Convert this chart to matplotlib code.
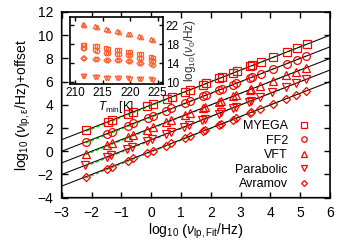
import numpy as np
import matplotlib
matplotlib.use("Agg")
import matplotlib.pyplot as plt

plt.rcParams['font.family'] = ['Liberation Sans', 'DejaVu Sans']
plt.rcParams['mathtext.fontset'] = 'custom'
plt.rcParams['mathtext.rm'] = 'Liberation Sans'
plt.rcParams['mathtext.it'] = 'Liberation Sans:italic'
plt.rcParams['mathtext.bf'] = 'Liberation Sans:bold'
plt.rcParams['path.snap'] = False

# ---------------- data ----------------
series_names = ["MYEGA", "FF2", "VFT", "Parabolic", "Avramov"]
series_markers = ["s", "o", "^", "v", "D"]
offsets = [4, 3, 2, 1, 0]

x_myega = [-2.18, -1.46, -1.30, -0.77, -0.60, -0.13, 0.07, 0.52, 0.69, 1.14, 1.31,
           1.75, 1.84, 2.29, 2.37, 2.76, 2.87, 3.32, 3.38, 3.68, 4.10, 4.55, 4.89, 5.22]
y_myega = [1.80, 2.52, 2.70, 3.22, 3.41, 3.86, 4.08, 4.52, 4.70, 5.13, 5.32,
           5.74, 5.85, 6.28, 6.38, 6.75, 6.88, 7.31, 7.39, 7.67, 8.10, 8.55, 8.88, 9.22]
x_ff2 = [-2.19, -1.47, -1.31, -0.78, -0.61, -0.12, 0.06, 0.51, 0.68, 1.13, 1.30,
         1.74, 1.83, 2.28, 2.36, 2.75, 2.86, 3.31, 3.37, 3.67, 4.09, 4.54, 4.88, 5.21]
y_ff2 = [0.80, 1.52, 1.70, 2.21, 2.40, 2.87, 3.07, 3.50, 3.69, 4.12, 4.31,
         4.73, 4.84, 5.27, 5.37, 5.74, 5.87, 6.30, 6.38, 6.66, 7.09, 7.54, 7.87, 8.21]
x_vft = [-2.20, -1.48, -1.32, -0.79, -0.62, -0.13, 0.05, 0.50, 0.67, 1.12, 1.29,
         1.73, 1.82, 2.27, 2.35, 2.74, 2.85, 3.30, 3.36, 3.66, 4.08, 4.53, 4.87, 5.20]
y_vft = [-0.21, 0.51, 0.69, 1.20, 1.39, 1.86, 2.06, 2.49, 2.68, 3.11, 3.30,
         3.72, 3.83, 4.26, 4.36, 4.73, 4.86, 5.29, 5.37, 5.65, 6.08, 6.53, 6.86, 7.20]
x_par = [-2.21, -1.49, -1.33, -0.80, -0.63, -0.14, 0.04, 0.49, 0.66, 1.11, 1.28,
         1.72, 1.81, 2.26, 2.34, 2.73, 2.84, 3.29, 3.35, 3.65, 4.07, 4.52, 4.86, 5.19]
y_par = [-1.22, -0.50, -0.32, 0.19, 0.38, 0.85, 1.05, 1.48, 1.67, 2.10, 2.29,
         2.71, 2.82, 3.25, 3.35, 3.72, 3.85, 4.28, 4.36, 4.64, 5.07, 5.52, 5.85, 6.19]
x_avr = [-2.20, -1.48, -1.32, -0.79, -0.62, -0.13, 0.05, 0.50, 0.67, 1.12, 1.29,
         1.73, 1.82, 2.27, 2.35, 2.74, 2.85, 3.30, 3.36, 3.66, 4.08, 4.53, 4.87, 5.20]
y_avr = [-2.22, -1.51, -1.33, -0.80, -0.61, -0.14, 0.05, 0.49, 0.68, 1.11, 1.30,
         1.72, 1.83, 2.26, 2.36, 2.73, 2.86, 3.29, 3.37, 3.65, 4.08, 4.53, 4.86, 5.21]

main_x = [x_myega, x_ff2, x_vft, x_par, x_avr]
main_y = [y_myega, y_ff2, y_vft, y_par, y_avr]

# green dashed fits (slope, shift relative to offset)
fit_slope = [1.015, 1.015, 1.015, 1.015, 1.015]
fit_shift = [-0.07, -0.07, -0.07, -0.07, -0.07]

# inset: T_min [K] vs log10(nu0/Hz)
T_min = [211.3, 211.5, 213.6, 214.0, 215.6, 216.0, 217.6, 218.0, 219.6, 220.0,
         221.6, 222.0, 223.8, 224.2]
nu0_myega = [17.9, 17.9, 17.55, 17.5, 17.1, 17.05, 16.85, 16.8, 16.35, 16.3,
             16.0, 15.95, 15.2, 15.1]
nu0_ff2 = [17.1, 17.1, 16.7, 16.65, 16.2, 16.15, 16.0, 15.95, 15.65, 15.6,
           15.15, 15.1, 14.6, 14.5]
nu0_vft = [22.15, 22.1, 21.8, 21.6, 21.1, 20.9, 20.7, 20.6, 20.2, 20.1,
           19.7, 19.5, 19.0, 18.8]
nu0_par = [11.2, 11.2, 11.05, 11.0, 10.9, 10.9, 10.8, 10.8, 10.8, 10.75,
           10.6, 10.6, 10.55, 10.5]
nu0_avr = [15.15, 15.15, 14.85, 14.8, 14.6, 14.6, 14.6, 14.55, 14.4, 14.35,
           14.0, 14.0, 13.75, 13.6]
inset_y = [nu0_myega, nu0_ff2, nu0_vft, nu0_par, nu0_avr]

x_ticks = [-3, -2, -1, 0, 1, 2, 3, 4, 5, 6]
y_ticks = [-4, -2, 0, 2, 4, 6, 8, 10, 12]
inset_xticks = [210, 215, 220, 225]
inset_yticks = [10, 14, 18, 22]

# ---------------- figure ----------------
fig = plt.figure(figsize=(3.54, 2.46), dpi=100)
ax = fig.add_axes([0.1743, 0.1963, 0.758, 0.755])

red = '#ff0000'
orange = '#ff6030'
xline = np.array([-3.0, 6.0])
for i, name in enumerate(series_names):
    off = offsets[i]
    ax.plot(xline, xline + off, color='black', lw=0.75, zorder=2)
    xs = np.array(main_x[i])
    xg = np.array([xs.min(), xs.max()])
    ax.plot(xg, fit_slope[i] * xg + off + fit_shift[i], color='#00dd00', lw=0.8,
            ls=(0, (3, 2)), zorder=1)
    ax.plot(main_x[i], main_y[i], ls='none', marker=series_markers[i],
            ms=5.6 if series_markers[i] != 'D' else 4.2, mfc='none', mec=red,
            mew=0.9, zorder=3, label=name)

ax.set_xlim(-3, 6)
ax.set_ylim(-4, 12)
ax.set_xticks(x_ticks)
ax.set_yticks(y_ticks)
ax.tick_params(direction='in', top=True, right=True, length=4, width=1,
               labelsize=10, pad=6)
for s in ax.spines.values():
    s.set_linewidth(1.2)
ax.set_xlabel(r'log$_{10}$ $\left(\nu_{\rm lp,Fit}/{\rm Hz}\right)$', fontsize=10,
              labelpad=1)
ax.set_ylabel(r'log$_{10}$ $\left(\nu_{\rm lp,\epsilon}/{\rm Hz}\right)$+offset',
              fontsize=10, labelpad=3)

leg = ax.legend(loc='lower right', frameon=False, markerfirst=False,
                fontsize=9, handlelength=1.0, handletextpad=0.8,
                labelspacing=0.2, markerscale=0.7, borderaxespad=0.2,
                bbox_to_anchor=(0.955, 0.0))

# ---------------- inset ----------------
axin = fig.add_axes([0.1977, 0.6585, 0.2627, 0.2724])
for i, name in enumerate(series_names):
    axin.plot(T_min, inset_y[i], ls='none', marker=series_markers[i],
              ms=3.2 if series_markers[i] != 'D' else 2.6, mfc='none',
              mec=orange, mew=0.9)
axin.set_xlim(209, 226)
axin.set_ylim(9.6, 23.7)
axin.set_xticks(inset_xticks)
axin.set_yticks(inset_yticks)
axin.tick_params(direction='in', top=True, right=True, left=True, bottom=True,
                 labelleft=False, labelright=True, length=3, width=1,
                 labelsize=8.5, pad=2)
for s in axin.spines.values():
    s.set_linewidth(1.2)
axin.set_xlabel(r'$T_{\rm min}$[K]', fontsize=8.5, labelpad=0)
axin.yaxis.set_label_position('right')
axin.set_ylabel(r'log$_{10}$($\nu_0$/Hz)', fontsize=8.5, labelpad=2, color='#333333')

fig.savefig('out.png', dpi=100)
